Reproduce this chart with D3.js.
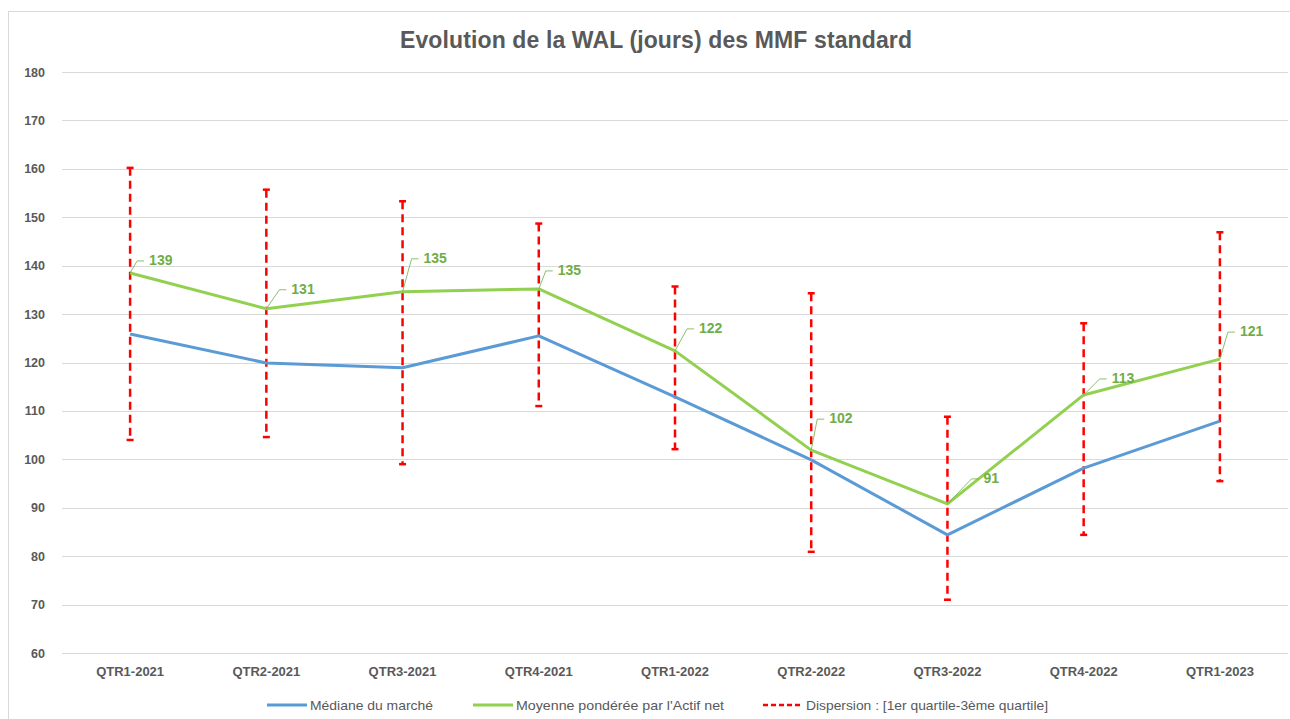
<!DOCTYPE html>
<html>
<head>
<meta charset="utf-8">
<script src="https://cdn.jsdelivr.net/npm/d3@7"></script>
<style>
  body { margin: 0; background: #fff; }
  svg { display: block; font-family: "Liberation Sans", Arial, sans-serif; }
</style>
</head>
<body>
<div id="chart"></div>
<script>
// quarters on the x axis
const quarters = ["QTR1-2021", "QTR2-2021", "QTR3-2021", "QTR4-2021", "QTR1-2022",
  "QTR2-2022", "QTR3-2022", "QTR4-2022", "QTR1-2023"];

const median = [125.9, 119.9, 118.9, 125.5, 112.9, 99.9, 84.4, 98.2, 107.9];
const weighted = [138.5, 131.1, 134.6, 135.2, 122.4, 101.9, 90.8, 113.3, 120.7];
const q1 = [104, 104.6, 99, 111, 102.1, 80.9, 71, 84.4, 95.5];
const q3 = [160.2, 155.7, 153.3, 148.7, 135.7, 134.3, 108.8, 128.1, 146.9];

const yTicks = [60, 70, 80, 90, 100, 110, 120, 130, 140, 150, 160, 170, 180];

// where Excel put each data label, relative to the point (px)
const labelNudge = [[19, -13], [25, -20], [21, -34], [19, -19], [24, -23],
  [18, -32], [36, -26], [28, -17], [20, -28]];

const width = 1290, height = 719;
const svg = d3.select("#chart").append("svg")
  .attr("width", width)
  .attr("height", height);

// outer frame
svg.append("rect")
  .attr("x", 8.5).attr("y", 11.5)
  .attr("width", 1300).attr("height", 720)
  .attr("fill", "none")
  .attr("stroke", "#d9d9d9");

const x = d3.scaleBand().domain(quarters).range([62, 1288]);
const y = d3.scaleLinear().domain([60, 180]).range([653, 72]);
const cx = d => x(d) + x.bandwidth() / 2;

// title
svg.append("text")
  .attr("x", 656).attr("y", 48)
  .attr("text-anchor", "middle")
  .attr("font-size", 23).attr("font-weight", "bold")
  .attr("fill", "#595959")
  .attr("textLength", 512)
  .attr("lengthAdjust", "spacing")
  .text("Evolution de la WAL (jours) des MMF standard");

// grid
svg.append("g")
  .selectAll("line")
  .data(yTicks)
  .join("line")
  .attr("x1", 62).attr("x2", 1288)
  .attr("y1", d => Math.round(y(d)) + 0.5)
  .attr("y2", d => Math.round(y(d)) + 0.5)
  .attr("stroke", "#d9d9d9");

// y axis labels
const yAxis = svg.append("g")
  .attr("transform", "translate(45,0)")
  .call(d3.axisLeft(y).tickValues(yTicks).tickSize(0).tickPadding(0));
yAxis.select(".domain").remove();
yAxis.selectAll("text")
  .attr("font-family", "Liberation Sans, Arial, sans-serif")
  .attr("font-size", 12.5).attr("font-weight", "bold")
  .attr("fill", "#595959");

// x axis labels
const xAxis = svg.append("g")
  .attr("transform", "translate(0,667)")
  .call(d3.axisBottom(x).tickSize(0).tickPadding(0));
xAxis.select(".domain").remove();
xAxis.selectAll("text")
  .attr("font-family", "Liberation Sans, Arial, sans-serif")
  .attr("font-size", 13).attr("font-weight", "bold")
  .attr("fill", "#595959");

// dispersion bars
const bars = svg.append("g");
bars.selectAll("line.disp")
  .data(quarters)
  .join("line")
  .attr("class", "disp")
  .attr("x1", d => cx(d)).attr("x2", d => cx(d))
  .attr("y1", (d, i) => y(q3[i]))
  .attr("y2", (d, i) => y(q1[i]))
  .attr("stroke", "#ff0000")
  .attr("stroke-width", 2.5)
  .attr("stroke-dasharray", "8,5");
[q1, q3].forEach(arr => {
  bars.selectAll(null)
    .data(quarters)
    .join("line")
    .attr("x1", d => cx(d) - 3.5).attr("x2", d => cx(d) + 3.5)
    .attr("y1", (d, i) => y(arr[i])).attr("y2", (d, i) => y(arr[i]))
    .attr("stroke", "#ff0000")
    .attr("stroke-width", 2.5);
});

// lines
const line = d3.line()
  .x((d, i) => cx(quarters[i]))
  .y(d => y(d));

svg.append("path")
  .datum(median)
  .attr("d", line)
  .attr("fill", "none")
  .attr("stroke", "#5b9bd5")
  .attr("stroke-width", 3)
  .attr("stroke-linejoin", "round");

svg.append("path")
  .datum(weighted)
  .attr("d", line)
  .attr("fill", "none")
  .attr("stroke", "#92d050")
  .attr("stroke-width", 3)
  .attr("stroke-linejoin", "round");

// data labels with leader lines
const labels = svg.append("g");
weighted.forEach((v, i) => {
  const px = cx(quarters[i]), py = y(v);
  const [dx, dy] = labelNudge[i];
  const tx = px + dx, ty = py + dy;
  labels.append("path")
    .attr("d", `M${px},${py}L${tx - 12},${ty + 1}L${tx - 5},${ty + 1}`)
    .attr("fill", "none")
    .attr("stroke", "#70ad47")
    .attr("stroke-width", 0.8);
  labels.append("text")
    .attr("x", tx).attr("y", ty)
    .attr("dy", "0.35em")
    .attr("font-size", 14).attr("font-weight", "bold")
    .attr("fill", "#70ad47")
    .text(Math.round(v));
});

// legend
const legendItems = [
  { label: "Médiane du marché", color: "#5b9bd5", x: 267, len: 123, dash: null },
  { label: "Moyenne pondérée par l'Actif net", color: "#92d050", x: 473, len: 208, dash: null },
  { label: "Dispersion : [1er quartile-3ème quartile]", color: "#ff0000", x: 763, len: 242, dash: "5,3" }
];
const legend = svg.append("g").attr("transform", "translate(0,705)");
legendItems.forEach(d => {
  legend.append("line")
    .attr("x1", d.x).attr("x2", d.x + 40)
    .attr("y1", 0).attr("y2", 0)
    .attr("stroke", d.color)
    .attr("stroke-width", d.dash ? 2.5 : 3)
    .attr("stroke-dasharray", d.dash);
  legend.append("text")
    .attr("x", d.x + 43).attr("y", 0)
    .attr("dy", "0.35em")
    .attr("font-size", 13)
    .attr("fill", "#595959")
    .attr("textLength", d.len)
    .attr("lengthAdjust", "spacingAndGlyphs")
    .text(d.label);
});
</script>
</body>
</html>
